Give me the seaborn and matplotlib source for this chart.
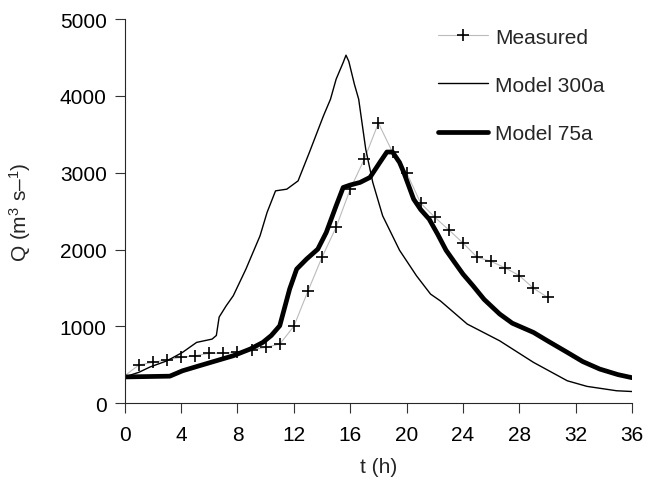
import numpy as np
import pandas as pd
import matplotlib
matplotlib.use('Agg')
import matplotlib.pyplot as plt
import seaborn as sns

# Measured discharge (hourly)
t_meas = list(range(0, 31))
q_meas = [355, 495, 530, 564, 595, 616, 647, 651, 660, 694, 725, 768, 1000,
          1458, 1900, 2290, 2786, 3177, 3646, 3268, 3000, 2604, 2420, 2255,
          2085, 1900, 1845, 1760, 1660, 1495, 1378]

# Model 300a
t_300 = [0, 1, 1.8, 3, 4.1, 5.1, 6.2, 6.5, 6.7, 7.2, 7.7, 8.6, 9.6, 10.1, 10.7,
         11.5, 12.3, 13.1, 14.1, 14.6, 15.0, 15.5, 15.7, 15.9, 16.3, 16.6, 17.1,
         17.6, 18.3, 19.5, 20.7, 21.7, 22.4, 24.3, 26.6, 29.0, 31.4, 32.8, 34.9, 36]
q_300 = [340, 400, 470, 550, 660, 790, 833, 880, 1120, 1267, 1397, 1745, 2178,
         2483, 2764, 2786, 2894, 3264, 3741, 3958, 4219, 4436, 4531, 4450, 4150,
         3958, 3307, 2874, 2439, 1990, 1658, 1419, 1330, 1029, 811, 530, 290,
         217, 160, 150]

# Model 75a
t_75 = [0, 3.2, 4.1, 5.3, 6.5, 7.7, 8.9, 9.8, 10.4, 11.0, 11.7, 12.2, 12.9, 13.7,
        14.3, 15.0, 15.5, 16.0, 16.7, 17.4, 18.1, 18.6, 19.0, 19.5, 19.8, 20.5,
        21.0, 21.6, 22.2, 22.8, 23.3, 24.0, 24.7, 25.5, 26.6, 27.5, 29.0, 30.0,
        31.4, 32.5, 33.7, 35.0, 36]
q_75 = [340, 350, 420, 486, 551, 616, 703, 790, 880, 1007, 1484, 1745, 1875,
        2005, 2222, 2569, 2808, 2840, 2874, 2939, 3134, 3270, 3270, 3134, 3004,
        2656, 2520, 2396, 2200, 1990, 1860, 1680, 1530, 1350, 1160, 1040, 920,
        810, 660, 540, 443, 370, 330]

sns.set_style('ticks')
plt.rcParams['font.family'] = ['Liberation Sans', 'DejaVu Sans']
plt.rcParams['mathtext.fontset'] = 'custom'
plt.rcParams['mathtext.rm'] = 'Liberation Sans'
plt.rcParams['mathtext.it'] = 'Liberation Sans'

fig = plt.figure(figsize=(6.53, 4.81), dpi=100)
ax = fig.add_axes([0.191, 0.160, 0.777, 0.798])

sns.lineplot(x=t_meas, y=q_meas, ax=ax, color='#bbbbbb', lw=0.8, marker='+',
             markersize=9, markeredgecolor='black', markeredgewidth=1.2,
             label='Measured')
sns.lineplot(x=t_300, y=q_300, ax=ax, color='black', lw=1.0, label='Model 300a')
sns.lineplot(x=t_75, y=q_75, ax=ax, color='black', lw=3.4, label='Model 75a')

ax.set_xlim(0, 36)
ax.set_ylim(0, 5000)
ax.set_xticks(range(0, 37, 4))
ax.set_yticks(range(0, 5001, 1000))
ax.tick_params(labelsize=15, length=7, width=0.8, colors='#333333',
               labelcolor='black')
ax.tick_params(axis='x', pad=9)
ax.tick_params(axis='y', pad=6)
ax.set_xlabel('t (h)', fontsize=15, labelpad=9)
ax.set_ylabel('Q (m$^3$ s–$^1$)', fontsize=15, labelpad=19)
sns.despine(ax=ax)
for s in ['left', 'bottom']:
    ax.spines[s].set_linewidth(0.8)

ax.legend(loc='upper left', bbox_to_anchor=(0.58, 1.027), frameon=False,
          fontsize=15, handlelength=2.4, labelspacing=1.4, handletextpad=0.35)

fig.savefig('out.png', dpi=100)
